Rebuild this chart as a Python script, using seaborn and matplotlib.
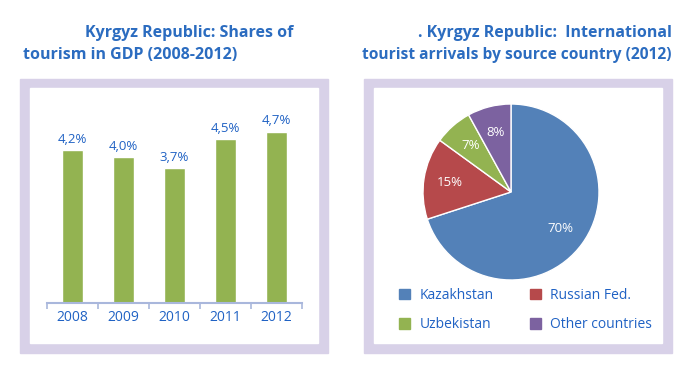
import matplotlib
matplotlib.use("Agg")
import matplotlib.pyplot as plt
import matplotlib.patches as mpatches
import seaborn as sns
import pandas as pd

# Données
annees = ["2008", "2009", "2010", "2011", "2012"]
part_pib = [4.2, 4.0, 3.7, 4.5, 4.7]
etiquettes_pib = ["4,2%", "4,0%", "3,7%", "4,5%", "4,7%"]

pays = ["Kazakhstan", "Russian Fed.", "Uzbekistan", "Other countries"]
arrivees = [70, 15, 7, 8]

bleu_titre = "#2b6cc0"
bleu_texte = "#2062c4"
lavande = "#d8d1e8"
couleurs_pie = ["#5381b8", "#b6494b", "#93b351", "#7c62a0"]

sns.set_theme(style="white")
plt.rcParams["font.family"] = ["Open Sans", "DejaVu Sans"]

W, H = 688, 369
fig = plt.figure(figsize=(W / 100, H / 100), dpi=100)


def fx(x):
    return x / W


def fy(y):
    return 1 - y / H


# Cadres lavande
for x0 in (20, 364):
    fig.patches.append(mpatches.Rectangle((fx(x0), fy(353)), fx(308), 274 / H,
                                          transform=fig.transFigure, color=lavande, zorder=-3))
    fig.patches.append(mpatches.Rectangle((fx(x0 + 10), fy(343)), fx(288), 255 / H,
                                          transform=fig.transFigure, color="white", zorder=-2))

# Titres
titre = dict(color=bleu_titre, fontsize=11.5, fontweight="bold", va="center")
fig.text(fx(293), fy(33), "Kyrgyz Republic: Shares of", ha="right", **titre)
fig.text(fx(23), fy(55), "tourism in GDP (2008-2012)", ha="left", **titre)
fig.text(fx(672), fy(33), ". Kyrgyz Republic:  International", ha="right", **titre)
fig.text(fx(672), fy(55), "tourist arrivals by source country (2012)", ha="right",
         **dict(titre, fontsize=11.2))

# Diagramme en barres
ax1 = fig.add_axes([fx(47), fy(303), fx(255), 215 / H])
df = pd.DataFrame({"Annee": annees, "Part": part_pib})
sns.barplot(data=df, x="Annee", y="Part", color="#93b351", width=0.43,
            saturation=1, ax=ax1)
for i, (v, t) in enumerate(zip(part_pib, etiquettes_pib)):
    ax1.text(i, v + 0.12, t, ha="center", va="bottom", color=bleu_texte, fontsize=9.5)
ax1.set_xlim(-0.5, 4.5)
ax1.set_ylim(0, 5.9)
ax1.set_facecolor("none")
for s in ("top", "right", "left"):
    ax1.spines[s].set_visible(False)
ax1.spines["bottom"].set_color("#a9b7dc")
ax1.spines["bottom"].set_linewidth(1.5)
ax1.set_yticks([])
ax1.set_xlabel("")
ax1.set_ylabel("")
ax1.set_xticks([-0.5, 0.5, 1.5, 2.5, 3.5, 4.5], minor=True)
ax1.tick_params(axis="x", which="minor", length=4, width=1.2, color="#a9b7dc",
                direction="out", bottom=True)
ax1.tick_params(axis="x", which="major", length=0, labelsize=10,
                labelcolor=bleu_texte, pad=5)

# Camembert
r = 88
ax2 = fig.add_axes([fx(511 - r), fy(192 + r), fx(2 * r), 2 * r / H])
wedges, textes, autotextes = ax2.pie(
    arrivees, colors=couleurs_pie, startangle=90, counterclock=False,
    autopct=lambda p: f"{p:.0f}%", pctdistance=0.7,
    textprops=dict(color="white", fontsize=9.5))
ax2.set_xlim(-1, 1)
ax2.set_ylim(-1, 1)

handles = [mpatches.Patch(color=c, label=p) for c, p in zip(couleurs_pie, pays)]
leg = fig.legend(handles=[handles[0], handles[2], handles[1], handles[3]],
                 ncol=2, loc="center left", bbox_to_anchor=(fx(386), fy(310)),
                 frameon=False, fontsize=10, handlelength=0.8, handleheight=0.8,
                 handletextpad=0.7, columnspacing=2.6, labelspacing=1.05)
for t in leg.get_texts():
    t.set_color(bleu_texte)

fig.savefig("out.png", dpi=100)
